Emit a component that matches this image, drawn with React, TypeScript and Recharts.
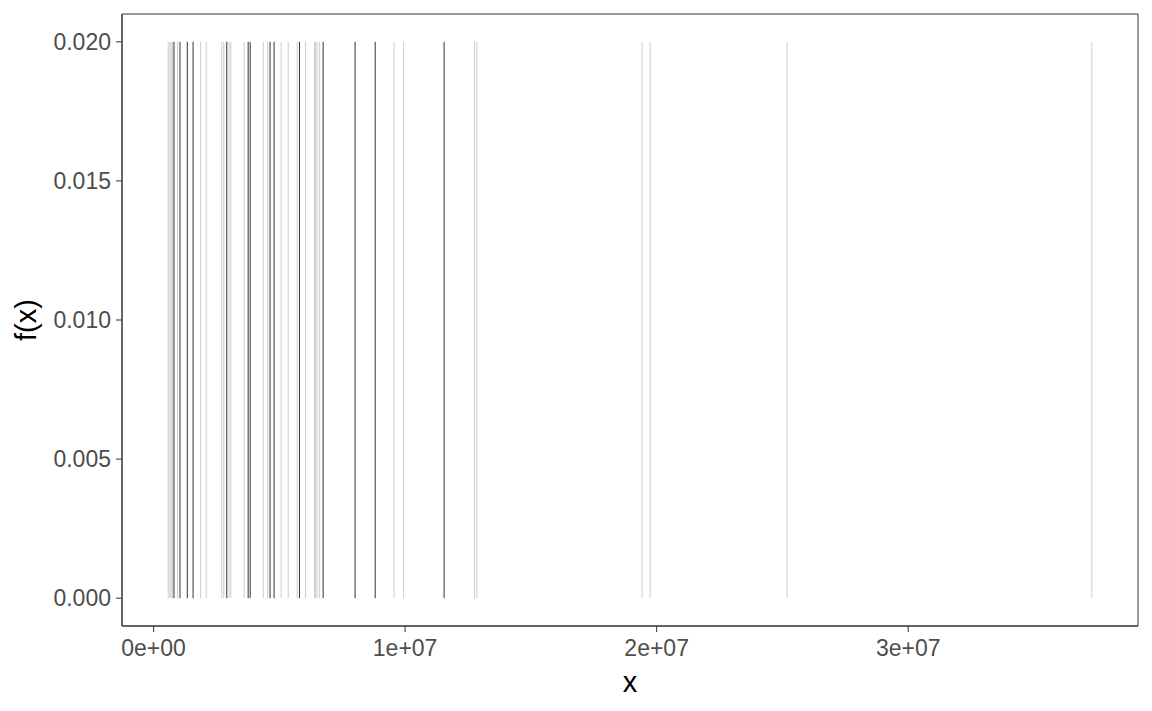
import React from 'react';
import { ComposedChart, Line, XAxis, YAxis, ReferenceArea } from 'recharts';

// x positions of the segments
const lightX = [
  580000, 650000, 700000, 760000, 950000, 1870000, 2090000, 2710000, 2790000,
  3000000, 3070000, 3600000, 4360000, 4540000, 5070000, 5350000, 5710000,
  6040000, 6400000, 6440000, 6500000, 6600000, 9560000, 9940000, 12760000,
  12850000, 19420000, 19740000, 25180000, 37300000,
];
const darkX = [
  810000, 1050000, 1340000, 1570000, 2910000, 3760000, 3840000, 4630000,
  4790000, 5800000, 6740000, 8010000, 8810000, 11550000,
];
const segTop = 0.02;

const xTicks = [0, 10000000, 20000000, 30000000];
const xTickLabels = ['0e+00', '1e+07', '2e+07', '3e+07'];
const yTicks = [0, 0.005, 0.01, 0.015, 0.02];

const xDomain: [number, number] = [-1256000, 39136000];
const yDomain: [number, number] = [-0.001, 0.021];

const font = '"Liberation Sans", Arial, sans-serif';

function seg(x: number) {
  return [
    { x, y: 0 },
    { x, y: segTop },
  ];
}

export default function App() {
  return (
    <div style={{ position: 'absolute', left: 0, top: 0, fontFamily: font }}>
      <ComposedChart
        width={1152}
        height={711}
        margin={{ top: 14, right: 14, left: 0, bottom: 0 }}
      >
        <XAxis
          dataKey="x"
          type="number"
          domain={xDomain}
          allowDataOverflow
          ticks={xTicks}
          tickFormatter={(v: number) => xTickLabels[xTicks.indexOf(v)] ?? ''}
          height={85}
          tickSize={6}
          tickMargin={8}
          stroke="#333333"
          tick={{ fill: '#4d4d4d', fontSize: 23, fontFamily: font }}
          label={{
            value: 'x',
            position: 'insideBottom',
            offset: 19,
            fill: '#000',
            fontSize: 29,
            fontFamily: font,
          }}
        />
        <YAxis
          type="number"
          domain={yDomain}
          allowDataOverflow
          ticks={yTicks}
          tickFormatter={(v: number) => v.toFixed(3)}
          width={122}
          tickSize={6}
          tickMargin={5}
          stroke="#333333"
          tick={{ fill: '#4d4d4d', fontSize: 23, fontFamily: font }}
          label={{
            value: 'f(x)',
            angle: -90,
            position: 'insideLeft',
            offset: 26,
            fill: '#000',
            fontSize: 29,
            fontFamily: font,
            style: { textAnchor: 'middle' },
          }}
        />
        {lightX.map((x, i) => (
          <Line
            key={'l' + i}
            data={seg(x)}
            dataKey="y"
            stroke="#cccccc"
            strokeWidth={1}
            dot={false}
            activeDot={false}
            isAnimationActive={false}
          />
        ))}
        {darkX.map((x, i) => (
          <Line
            key={'d' + i}
            data={seg(x)}
            dataKey="y"
            stroke="#333333"
            strokeWidth={1}
            dot={false}
            activeDot={false}
            isAnimationActive={false}
          />
        ))}
        <ReferenceArea
          x1={xDomain[0]}
          x2={xDomain[1]}
          y1={yDomain[0]}
          y2={yDomain[1]}
          fill="none"
          stroke="#333333"
          strokeWidth={1}
          ifOverflow="visible"
        />
      </ComposedChart>
    </div>
  );
}
